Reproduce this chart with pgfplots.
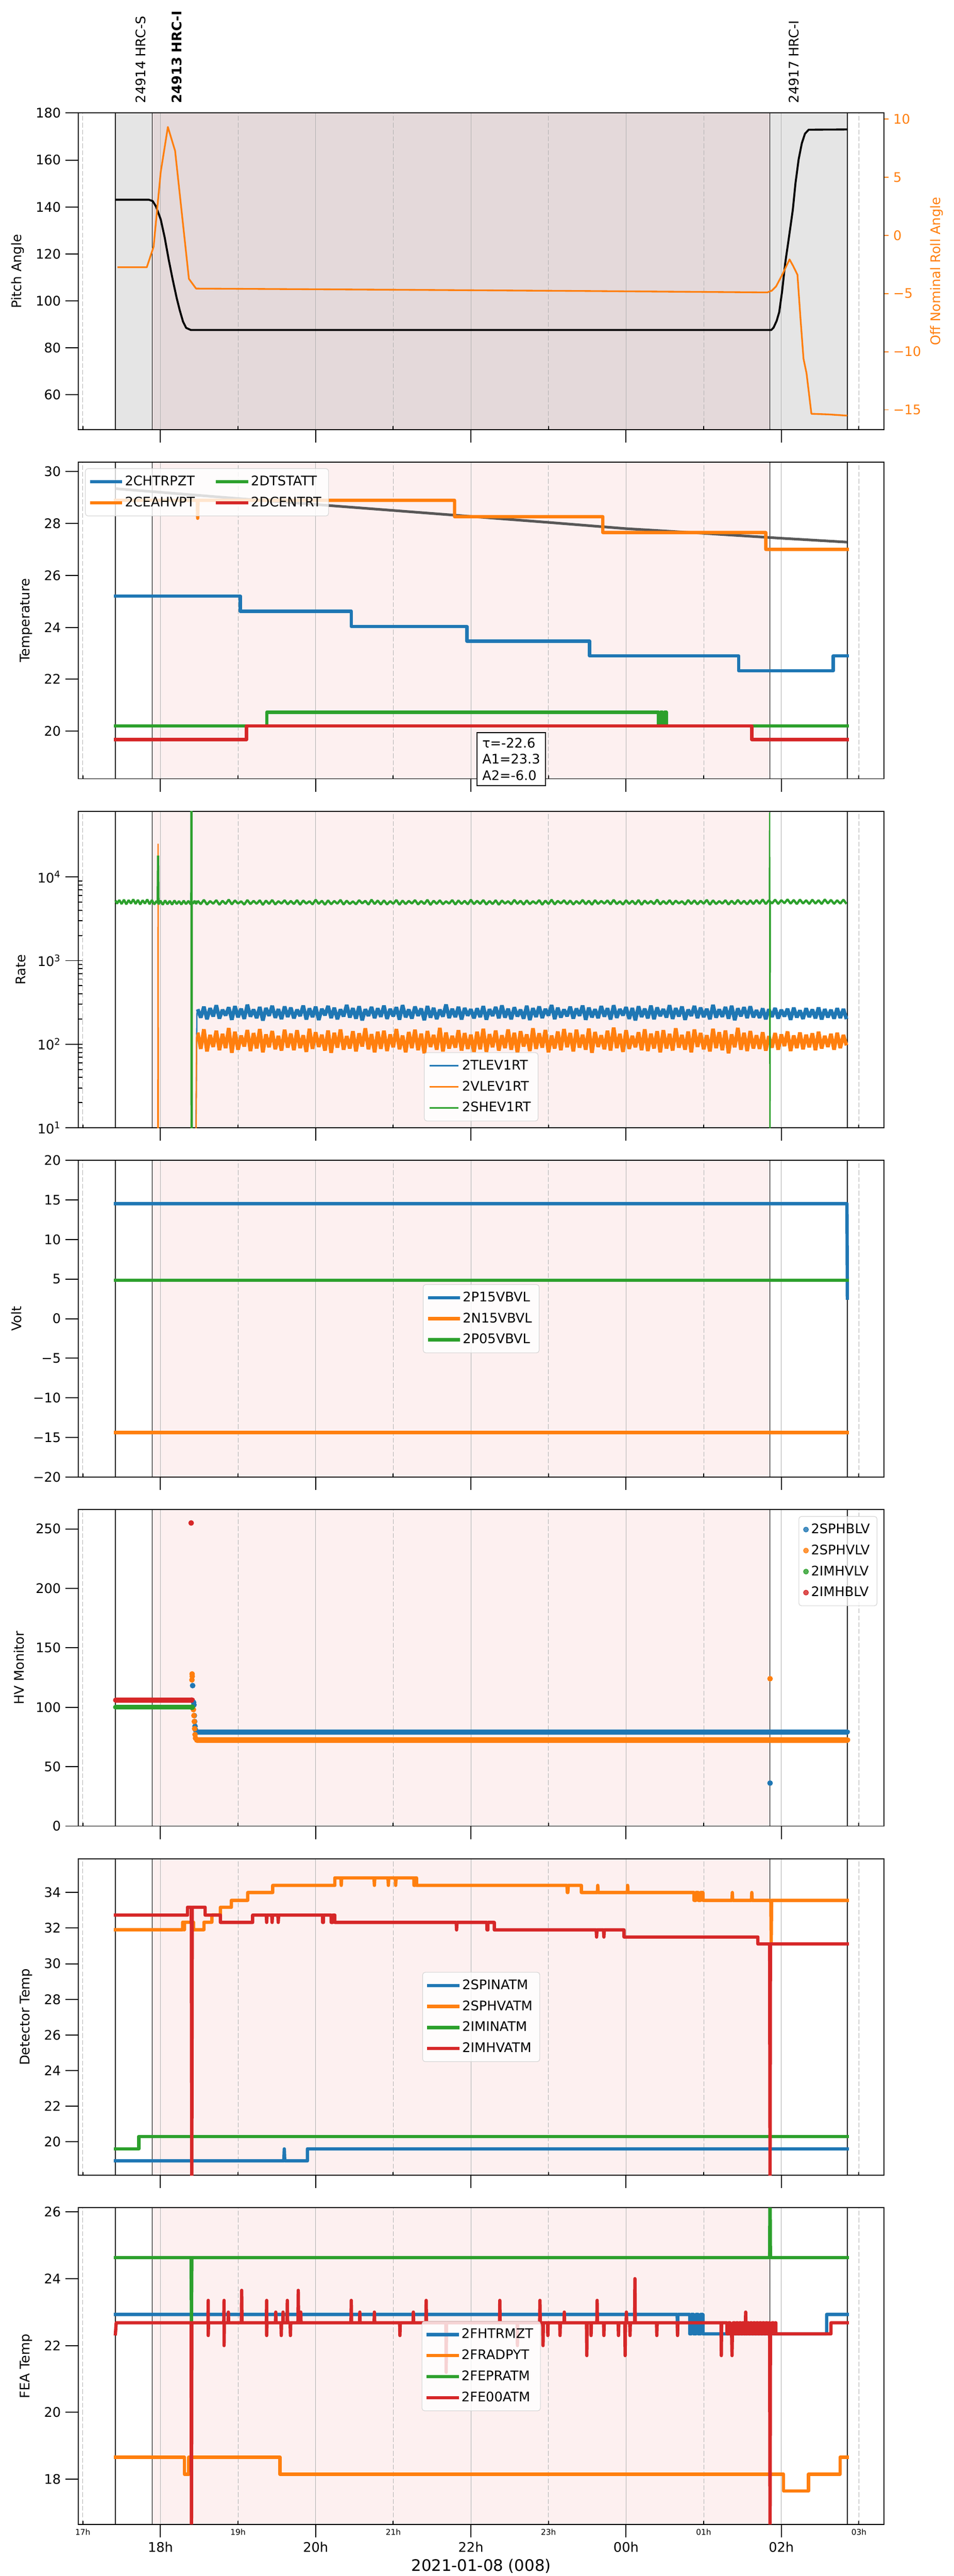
\documentclass[border=0pt]{standalone}
\usepackage{fontspec}
\setmainfont{DejaVu Sans}
\usepackage{pgfplots}
\usepackage{pgfplotstable}
\pgfplotsset{compat=1.18}

\definecolor{tabblue}{HTML}{1F77B4}
\definecolor{taborange}{HTML}{FF7F0E}
\definecolor{tabgreen}{HTML}{2CA02C}
\definecolor{tabred}{HTML}{D62728}
\definecolor{gridgray}{HTML}{B0B0B0}
\definecolor{pinkbg}{RGB}{253,240,240}
\definecolor{brownbg}{RGB}{228,217,218}
\definecolor{graybg}{RGB}{229,229,229}
\definecolor{fitgray}{HTML}{474747}

\pgfplotstableread{
x b o g
18.48 262 138 5210
18.52 208 88 4720
18.56 281 151 5330
18.60 199 82 4680
18.64 270 129 5150
18.68 215 93 4790
18.72 292 145 5280
18.76 203 85 4650
18.80 258 133 5190
18.84 221 90 4750
18.88 276 156 5360
18.92 196 79 4700
18.96 285 141 5240
19.00 210 86 4810
19.04 266 127 5120
19.08 201 94 4670
19.12 297 148 5300
19.16 214 83 4730
19.20 260 136 5180
19.24 205 89 4780
19.28 279 152 5260
19.32 192 80 4640
19.36 271 131 5220
19.40 219 92 4760
19.44 288 144 5310
19.48 207 87 4690
19.52 263 126 5140
19.56 200 84 4800
19.60 283 149 5270
19.64 212 91 4710
19.68 274 134 5170
19.72 204 85 4740
19.76 259 147 5290
19.80 217 90 4660
19.84 290 128 5230
19.88 198 81 4800
19.92 268 153 5130
19.96 211 88 4700
20.00 281 139 5340
20.04 195 93 4770
20.08 265 130 5200
20.12 222 84 4650
20.16 287 146 5250
20.20 206 79 4720
20.24 273 137 5160
20.28 199 91 4790
20.32 261 150 5320
20.36 215 86 4680
20.40 295 125 5210
20.44 209 89 4750
20.48 270 143 5110
20.52 202 82 4710
20.56 284 135 5280
20.60 193 94 4830
20.64 262 155 5190
20.68 218 87 4670
20.72 279 132 5350
20.76 205 80 4740
20.80 268 141 5230
20.84 213 88 4690
20.88 289 145 5250
20.92 201 83 4700
20.96 264 131 5140
21.00 216 92 4780
21.04 277 152 5310
21.08 197 87 4660
21.12 293 127 5220
21.16 210 80 4730
21.20 260 140 5180
21.24 203 90 4810
21.28 282 149 5290
21.32 219 85 4690
21.36 267 134 5160
21.40 194 78 4750
21.44 286 144 5330
21.48 208 93 4640
21.52 272 129 5200
21.56 200 86 4770
21.60 259 157 5260
21.64 214 82 4720
21.68 298 138 5120
21.72 206 89 4800
21.76 265 126 5300
21.80 211 91 4680
21.84 280 147 5240
21.88 198 84 4760
21.92 271 136 5170
21.96 220 88 4710
22.00 262 130 5340
22.04 204 81 4730
22.08 268 141 5190
22.12 211 87 4760
22.16 285 153 5300
22.20 197 81 4690
22.24 262 132 5160
22.28 218 92 4740
22.32 279 146 5270
22.36 204 84 4650
22.40 291 128 5230
22.44 208 90 4800
22.48 266 150 5140
22.52 199 86 4710
22.56 276 137 5320
22.60 215 79 4770
22.64 259 143 5200
22.68 202 94 4680
22.72 288 131 5250
22.76 195 83 4730
22.80 270 155 5130
22.84 212 88 4790
22.88 283 135 5290
22.92 206 91 4660
22.96 264 148 5210
23.00 220 80 4750
23.04 294 127 5340
23.08 200 89 4700
23.12 273 142 5180
23.16 209 85 4820
23.20 260 152 5260
23.24 216 92 4720
23.28 281 136 5230
23.32 203 82 4690
23.36 267 149 5150
23.40 219 91 4780
23.44 290 130 5310
23.48 196 86 4720
23.52 274 154 5200
23.56 210 79 4660
23.60 262 140 5280
23.64 205 93 4750
23.68 286 128 5170
23.72 214 87 4800
23.76 269 145 5240
23.80 198 84 4700
23.84 292 158 5330
23.88 207 90 4740
23.92 263 133 5120
23.96 221 81 4680
24.00 278 147 5260
24.04 201 88 4770
24.08 271 126 5190
24.12 193 92 4710
24.16 284 139 5300
24.20 212 85 4650
24.24 266 151 5220
24.28 204 83 4790
24.32 289 134 5160
24.36 199 89 4730
24.40 275 143 5350
24.44 217 80 4700
24.48 263 147 5160
24.52 209 89 4750
24.56 292 133 5280
24.60 201 84 4700
24.64 270 155 5210
24.68 215 91 4820
24.72 282 129 5130
24.76 196 86 4680
24.80 259 142 5300
24.84 218 80 4760
24.88 287 150 5240
24.92 205 93 4710
24.96 274 136 5190
25.00 211 87 4790
25.04 265 128 5320
25.08 199 82 4660
25.12 296 153 5250
25.16 208 90 4740
25.20 261 139 5150
25.24 213 85 4800
25.28 279 146 5270
25.32 202 78 4690
25.36 288 131 5200
25.40 194 92 4730
25.44 268 157 5310
25.48 216 86 4770
25.52 277 137 5180
25.56 206 83 4710
25.60 284 144 5260
25.64 210 89 4750
25.68 255 128 5300
25.72 207 88 4780
25.76 268 139 5380
25.80 199 84 4740
25.84 262 125 5260
25.88 212 91 4820
25.92 271 136 5350
25.96 203 86 4760
26.00 258 131 5290
26.04 215 95 4850
26.08 266 142 5400
26.12 196 83 4790
26.16 273 127 5310
26.20 209 90 4730
26.24 254 138 5370
26.28 201 87 4810
26.32 269 130 5270
26.36 211 92 4760
26.40 260 135 5340
26.44 204 85 4800
26.48 275 141 5280
26.52 198 89 4750
26.56 263 126 5390
26.60 210 93 4830
26.64 258 133 5320
26.68 202 86 4770
26.72 270 137 5260
26.76 206 90 4800
26.80 264 129 5350
26.84 200 97 4760
}\ratetable

\pgfplotsset{
  panel/.style={
    scale only axis, width=610.2pt, height=239.8pt, anchor=north west,
    xmin=16.944, xmax=27.322,
    xtick={18,20,22,24,26}, xticklabels={},
    extra x ticks={17,19,21,23,25,27}, extra x tick labels={},
    extra x tick style={xmajorgrids=true,
      major grid style={gridgray, line width=0.45pt, dash pattern=on 3.6pt off 1.6pt},
      major tick length=2.5pt, tick align=inside},
    xmajorgrids=true, ymajorgrids=false,
    major grid style={gridgray, line width=0.45pt},
    tick align=outside, major tick length=9.8pt, minor tick length=3pt,
    xtick pos=left, ytick pos=left,
    axis line style={line width=0.75pt},
    every tick/.style={black, line width=0.75pt},
    /pgf/number format/assume math mode=true,
    set layers, clip mode=individual,
    ylabel style={yshift=2pt},
    legend cell align=left,
    legend style={draw=black!18, fill=white, fill opacity=0.8, text opacity=1,
      rounded corners=2pt, inner sep=3.5pt, row sep=3pt,
      font=\fontsize{10}{12}\selectfont},
  },
  lineleg/.style={legend image code/.code={\draw[##1] (0pt,0pt) -- (22pt,0pt);}},
  dat/.style={line width=2.5pt, line join=round, line cap=rect},
}

\newcommand{\obs}[3]{%
  \addplot[fill=#3, draw=none, on layer=axis background, forget plot] coordinates {(17.895,#1) (25.85,#1) (25.85,#2) (17.895,#2)};
  \addplot[black, line width=0.5pt, forget plot] coordinates {(17.42,#1) (17.42,#2)};
  \addplot[black, line width=0.5pt, forget plot] coordinates {(17.895,#1) (17.895,#2)};
  \addplot[black, line width=0.5pt, forget plot] coordinates {(25.85,#1) (25.85,#2)};
  \addplot[black, line width=0.5pt, forget plot] coordinates {(26.851,#1) (26.851,#2)};
}

\begin{document}
\begin{tikzpicture}

% ---------------- Panel 1: Pitch / Roll
\begin{axis}[panel, at={(59.45pt,1865.66pt)}, ymin=45.2, ymax=180, ytick={60,80,...,180}, ylabel={Pitch Angle}]
\addplot[fill=graybg, draw=none, on layer=axis background, forget plot] coordinates {(17.42,45.2) (17.895,45.2) (17.895,180) (17.42,180)};
\addplot[fill=graybg, draw=none, on layer=axis background, forget plot] coordinates {(25.85,45.2) (26.851,45.2) (26.851,180) (25.85,180)};
\obs{45.2}{180}{brownbg}
\addplot[black, line width=1.5pt, line join=round] coordinates {
(17.42,143.1) (17.85,143.1) (17.90,142.5) (17.943,140.2) (18.004,134.7) (18.055,127) (18.106,117.7)
(18.158,109.1) (18.209,101.3) (18.25,95.9) (18.291,91.2) (18.332,88.5) (18.393,87.6) (18.45,87.6)
(25.87,87.6) (25.90,88.6) (25.94,91.5) (25.973,95.2) (26.01,104) (26.05,116) (26.096,126.5)
(26.148,138.7) (26.183,150.2) (26.224,160.4) (26.265,167.2) (26.305,171.2) (26.353,172.9) (26.851,173)};
\node[yshift=7.3pt, rotate=90, anchor=west, inner sep=0pt] at (axis cs:17.748,180) {24914 HRC-S};
\node[yshift=7.3pt, rotate=90, anchor=west, inner sep=0pt] at (axis cs:18.21,180) {\textbf{24913 HRC-I}};
\node[yshift=7.3pt, rotate=90, anchor=west, inner sep=0pt] at (axis cs:26.162,180) {24917 HRC-I};
\end{axis}
\begin{axis}[scale only axis, width=610.2pt, height=239.8pt, anchor=north west, at={(59.45pt,1865.66pt)},
  xmin=16.944, xmax=27.322, axis x line=none, axis y line*=right,
  axis line style={-, line width=0.75pt},
  ymin=-16.7, ymax=10.53, ytick={-15,-10,-5,0,5,10}, yticklabels={−15,−10,−5,0,5,10},
  tick align=outside, major tick length=3.6pt, every tick/.style={taborange, line width=0.75pt},
  y tick label style={text=taborange}, ylabel={Off Nominal Roll Angle}, ylabel style={text=taborange},
  xmajorgrids=false, ymajorgrids=false]
\addplot[taborange, line width=1.3pt, line join=round] coordinates {
(17.447,-2.74) (17.824,-2.74) (17.912,-0.97) (18.004,5.47) (18.096,9.33) (18.189,7.28) (18.367,-3.73)
(18.459,-4.57) (21.0,-4.67) (23.5,-4.78) (25.82,-4.9) (25.878,-4.75) (25.933,-4.38) (26.012,-3.38)
(26.106,-2.06) (26.153,-2.63) (26.208,-3.38) (26.247,-7.12) (26.286,-10.6) (26.325,-11.85)
(26.388,-15.34) (26.6,-15.39) (26.851,-15.5)};
\end{axis}

% ---------------- Panel 2: Temperature
\begin{axis}[panel, lineleg, at={(59.45pt,1601.20pt)}, ymin=18.17, ymax=30.36, ytick={20,22,...,30}, ylabel={Temperature},
  legend columns=2, transpose legend,
  legend style={at={(0,1)}, anchor=north west, xshift=5pt, yshift=-4.7pt, /tikz/every even column/.append style={column sep=14pt}}]
\obs{18.17}{30.36}{pinkbg}
\addplot[fitgray, line width=2pt, opacity=0.9, forget plot] coordinates {
(17.42,29.34) (18,29.20) (19,28.96) (20,28.73) (21,28.50) (22,28.27) (23,28.04) (24,27.80) (25,27.62) (26,27.43) (26.851,27.28)};
\addplot[tabblue, dat] coordinates {(17.42,25.2) (19.03,25.2) (19.03,24.62) (20.46,24.62) (20.46,24.03) (21.95,24.03) (21.95,23.47) (23.53,23.47) (23.53,22.9) (25.45,22.9) (25.45,22.33) (26.67,22.33) (26.67,22.9) (26.851,22.9)};
\addlegendentry{2CHTRPZT}
\addplot[taborange, dat] coordinates {(17.42,28.89) (18.475,28.89) (18.48,28.2) (18.485,28.89) (21.79,28.89) (21.79,28.26) (23.70,28.26) (23.70,27.65) (25.80,27.65) (25.80,27.0) (26.851,27.0)};
\addlegendentry{2CEAHVPT}
\addplot[tabgreen, dat] coordinates {(17.42,20.2) (19.37,20.2) (19.37,20.73) (24.42,20.73) (24.42,20.2) (24.445,20.2) (24.445,20.73) (24.47,20.73) (24.47,20.2) (24.495,20.2) (24.495,20.73) (24.52,20.73) (24.52,20.2) (26.851,20.2)};
\addlegendentry{2DTSTATT}
\addplot[tabred, dat] coordinates {(17.42,19.68) (19.11,19.68) (19.11,20.2) (25.62,20.2) (25.62,19.68) (26.851,19.68)};
\addlegendentry{2DCENTRT}
\node[draw=black, line width=1pt, fill=white, align=left, anchor=north, inner sep=4pt, font=\fontsize{10}{12.3}\selectfont] at (axis cs:22.52,19.97) {τ=-22.6\\A1=23.3\\A2=-6.0};
\end{axis}

% ---------------- Panel 3: Rate
\begin{axis}[panel, lineleg, at={(59.45pt,1336.74pt)}, ymode=log, ymin=10, ymax=61000,
  ytick={10,100,1000,10000}, yticklabels={10\textsuperscript{1},10\textsuperscript{2},10\textsuperscript{3},10\textsuperscript{4}},
  every minor tick/.append style={xshift=3pt},
  ylabel={Rate}, legend style={at={(0.5,0)}, anchor=south, yshift=5pt},
  legend image post style={line width=1.1pt}]
\obs{10}{61000}{pinkbg}
\addplot[tabblue, line width=2.8pt, line join=bevel] table[x=x,y=b]{\ratetable};
\addlegendentry{2TLEV1RT}
\addplot[taborange, line width=2.8pt, line join=bevel] table[x=x,y=o]{\ratetable};
\addlegendentry{2VLEV1RT}
\addplot[tabgreen, line width=1.7pt, line join=bevel] table[x=x,y=g]{\ratetable};
\addlegendentry{2SHEV1RT}
\addplot[tabblue, line width=1pt, forget plot] coordinates {(18.45,1) (18.465,60) (18.47,230) (18.48,262)};
\addplot[taborange, line width=1pt, forget plot] coordinates {(17.966,1) (17.97,25000) (17.974,1)};
\addplot[taborange, line width=1pt, forget plot] coordinates {(18.396,1) (18.40,4800) (18.404,1) (18.455,1) (18.465,120) (18.48,138)};
\addplot[tabgreen, line width=1.7pt, line join=bevel, forget plot] coordinates {
(17.42,5250) (17.44,4800) (17.47,5300) (17.50,4750) (17.53,5350) (17.56,4700) (17.59,5280) (17.62,4820) (17.65,5400) (17.68,4760)
(17.71,5320) (17.74,4690) (17.77,5260) (17.80,4810) (17.83,5380) (17.86,4730) (17.89,5300) (17.92,4700) (17.95,5150) (17.965,4900)
(17.97,18000) (17.975,4700) (18.00,5200) (18.03,4650) (18.06,5250) (18.09,4720) (18.12,5180) (18.15,4680) (18.18,5230) (18.21,4750)
(18.24,5150) (18.27,4690) (18.30,5210) (18.33,4730) (18.36,5170) (18.39,4700) (18.398,5000) (18.40,100000) (18.402,1) (18.404,5000)
(18.42,4800) (18.44,5200) (18.46,4750) (18.48,5210)};
\addplot[tabgreen, line width=1pt, forget plot] coordinates {(25.846,5000) (25.85,59000) (25.854,1) (25.858,5100)};
\end{axis}

% ---------------- Panel 4: Volt
\begin{axis}[panel, lineleg, at={(59.45pt,1072.28pt)}, ymin=-20, ymax=20, ytick={-20,-15,...,20},
  yticklabels={−20,−15,−10,−5,0,5,10,15,20}, ylabel={Volt},
  legend style={at={(0.5,0.5)}, anchor=center}]
\obs{-20}{20}{pinkbg}
\addplot[tabblue, dat] coordinates {(17.42,14.53) (26.846,14.53) (26.851,2.6)};
\addlegendentry{2P15VBVL}
\addplot[taborange, dat] coordinates {(17.42,-14.39) (26.851,-14.39)};
\addlegendentry{2N15VBVL}
\addplot[tabgreen, dat] coordinates {(17.42,4.85) (26.851,4.85)};
\addlegendentry{2P05VBVL}
\end{axis}

% ---------------- Panel 5: HV Monitor
\begin{axis}[panel, at={(59.45pt,807.82pt)}, ymin=0, ymax=266.3, ytick={0,50,...,250}, ylabel={HV Monitor},
  legend style={at={(1,1)}, anchor=north east, xshift=-5pt, yshift=-5pt}]
\obs{0}{266.3}{pinkbg}
\addplot[tabred, line width=3.6pt, line cap=round, forget plot] coordinates {(17.42,106) (18.415,106)};
\addplot[tabgreen, line width=3.6pt, line cap=round, forget plot] coordinates {(17.42,100) (18.415,100)};
\addplot[tabblue, line width=3.9pt, line cap=round, forget plot] coordinates {(18.47,79.3) (26.851,79.3)};
\addplot[taborange, line width=4.4pt, line cap=round, forget plot] coordinates {(18.47,72.5) (26.851,72.5)};
\addplot[only marks, mark=*, mark size=1.9pt, tabblue] coordinates {(18.415,118.2) (18.428,104) (18.432,102) (18.437,93) (18.441,88) (18.446,84) (18.452,81) (25.855,36.2)};
\addlegendentry{2SPHBLV}
\addplot[only marks, mark=*, mark size=1.9pt, taborange] coordinates {(18.408,128) (18.41,126) (18.406,123) (18.425,98) (18.432,93) (18.437,88) (18.441,82) (18.446,77) (18.452,74) (25.855,124)};
\addlegendentry{2SPHVLV}
\addplot[only marks, mark=*, mark size=1.9pt, tabgreen] coordinates {(18.40,100) (18.41,100)};
\addlegendentry{2IMHVLV}
\addplot[only marks, mark=*, mark size=1.9pt, tabred] coordinates {(18.396,255) (18.40,106)};
\addlegendentry{2IMHBLV}
\end{axis}

% ---------------- Panel 6: Detector Temp
\begin{axis}[panel, lineleg, at={(59.45pt,543.36pt)}, ymin=18.12, ymax=35.9, ytick={20,22,...,34}, ylabel={Detector Temp},
  legend style={at={(0.5,0.5)}, anchor=center}]
\obs{18.12}{35.9}{pinkbg}
\addplot[tabblue, dat] coordinates {(17.42,18.93) (19.59,18.93) (19.596,19.6) (19.602,18.93) (19.894,18.93) (19.894,19.6) (26.851,19.6)};
\addlegendentry{2SPINATM}
\addplot[taborange, dat] coordinates {(17.42,31.91) (18.286,31.91) (18.286,32.33) (18.30,32.33) (18.30,31.91) (18.31,31.91) (18.31,32.33) (18.427,32.33) (18.427,31.91) (18.561,31.91) (18.561,32.33) (18.663,32.33) (18.663,32.74) (18.773,32.74) (18.773,33.17) (18.914,33.17) (18.914,33.56) (19.125,33.56) (19.125,34.0) (19.447,34.0) (19.447,34.4) (20.247,34.4) (20.247,34.82) (20.325,34.82) (20.33,34.4) (20.335,34.82) (20.752,34.82) (20.757,34.4) (20.762,34.82) (20.932,34.82) (20.937,34.4) (20.942,34.82) (21.026,34.82) (21.031,34.4) (21.036,34.82) (21.267,34.82) (21.267,34.4) (21.28,34.4) (21.28,34.82) (21.30,34.82) (21.30,34.4) (23.238,34.4) (23.243,34.0) (23.25,34.0) (23.255,34.4) (23.424,34.4) (23.424,34.0) (23.63,34.0) (23.635,34.4) (23.64,34.0) (24.015,34.0) (24.02,34.4) (24.025,34.0) (24.875,34.0) (24.875,33.56) (24.9,33.56) (24.9,34.0) (24.93,34.0) (24.93,33.56) (24.96,33.56) (24.96,34.0) (24.99,34.0) (24.99,33.56) (25.364,33.56) (25.369,34.0) (25.374,33.56) (25.615,33.56) (25.62,34.0) (25.625,33.56) (25.865,33.56) (25.87,31.2) (25.875,33.56) (26.851,33.56)};
\addlegendentry{2SPHVATM}
\addplot[tabgreen, dat] coordinates {(17.42,19.6) (17.722,19.6) (17.722,20.3) (26.851,20.3)};
\addlegendentry{2IMINATM}
\addplot[tabred, dat] coordinates {(17.42,32.73) (18.349,32.73) (18.349,33.17) (18.398,33.17) (18.404,17) (18.41,33.17) (18.576,33.17) (18.576,32.73) (18.773,32.73) (18.773,32.32) (19.188,32.32) (19.188,32.73) (19.364,32.73) (19.369,32.32) (19.374,32.73) (19.434,32.73) (19.439,32.32) (19.444,32.73) (19.513,32.73) (19.518,32.32) (19.523,32.73) (20.09,32.73) (20.09,32.32) (20.10,32.32) (20.10,32.73) (20.20,32.73) (20.20,32.32) (20.22,32.32) (20.22,32.73) (20.247,32.73) (20.247,32.32) (21.811,32.32) (21.816,31.9) (21.821,32.32) (22.208,32.32) (22.208,31.9) (22.22,31.9) (22.22,32.32) (22.302,32.32) (22.302,31.9) (23.615,31.9) (23.62,31.5) (23.625,31.9) (23.709,31.9) (23.714,31.5) (23.719,31.9) (23.973,31.9) (23.973,31.5) (25.698,31.5) (25.698,31.11) (25.85,31.11) (25.855,17) (25.86,31.11) (26.851,31.11)};
\addlegendentry{2IMHVATM}
\end{axis}

% ---------------- Panel 7: FEA Temp
\begin{axis}[panel, lineleg, at={(59.45pt,278.90pt)}, ymin=16.65, ymax=26.12, ytick={18,20,...,26}, ylabel={FEA Temp},
  xticklabels={18h,20h,22h,00h,02h}, extra x tick labels={17h,19h,21h,23h,01h,03h},
  extra x tick style={tick label style={font=\fontsize{6}{7}\selectfont}},
  xlabel={2021-01-08 (008)},
  xlabel style={font=\fontsize{12}{14}\selectfont, at={(axis description cs:0.5,0)}, anchor=base, yshift=-35.5pt, inner sep=0pt},
  legend style={at={(0.5,0.5)}, anchor=center}]
\obs{16.65}{26.12}{pinkbg}
\addplot[tabblue, dat] coordinates {(17.42,22.93) (24.658,22.93) (24.663,22.35) (24.668,22.93) (24.82,22.93) (24.82,22.35) (24.84,22.35) (24.84,22.93) (24.87,22.93) (24.87,22.35) (24.90,22.35) (24.90,22.93) (24.93,22.93) (24.93,22.35) (24.96,22.35) (24.96,22.93) (24.99,22.93) (24.99,22.35) (26.584,22.35) (26.584,22.93) (26.851,22.93)};
\addlegendentry{2FHTRMZT}
\addplot[taborange, dat] coordinates {(17.42,18.66) (18.31,18.66) (18.31,18.15) (18.365,18.15) (18.365,18.66) (19.54,18.66) (19.54,18.15) (26.03,18.15) (26.03,17.65) (26.35,17.65) (26.35,18.15) (26.757,18.15) (26.757,18.66) (26.851,18.66)};
\addlegendentry{2FRADPYT}
\addplot[tabgreen, dat] coordinates {(17.42,24.63) (18.395,24.63) (18.40,22.73) (18.405,24.63) (25.85,24.63) (25.855,27) (25.86,24.63) (26.851,24.63)};
\addlegendentry{2FEPRATM}
\addplot[tabred, dat] coordinates {
(17.42,22.35) (17.43,22.68)
(18.395,22.68) (18.40,16) (18.405,22.68)
(18.612,22.68) (18.616,23.35) (18.616,22.3) (18.62,22.68)
(18.816,22.68) (18.82,23.35) (18.82,22.0) (18.824,22.68)
(18.871,22.68) (18.875,23.0) (18.879,22.68)
(19.043,22.68) (19.047,23.65) (19.051,22.68)
(19.365,22.68) (19.369,23.35) (19.369,22.3) (19.373,22.68)
(19.482,22.68) (19.486,23.0) (19.49,22.68)
(19.553,22.68) (19.557,22.3) (19.561,22.68)
(19.576,22.68) (19.58,23.0) (19.584,22.68)
(19.631,22.68) (19.635,23.35) (19.639,22.68)
(19.671,22.68) (19.675,22.3) (19.679,22.68)
(19.772,22.68) (19.776,23.65) (19.78,22.68)
(19.804,22.68) (19.808,23.0) (19.812,22.68)
(20.455,22.68) (20.459,23.35) (20.463,22.68)
(20.565,22.68) (20.569,23.0) (20.573,22.68)
(20.753,22.68) (20.757,23.0) (20.761,22.68)
(21.082,22.68) (21.086,22.3) (21.09,22.68)
(21.255,22.68) (21.259,23.0) (21.263,22.68)
(21.42,22.68) (21.424,23.35) (21.428,22.68)
(21.678,22.68) (21.682,21.2) (21.686,22.68)
(22.369,22.68) (22.373,23.35) (22.377,22.68)
(22.596,22.68) (22.6,22.0) (22.604,22.68)
(22.886,22.68) (22.89,23.35) (22.894,22.68)
(22.926,22.68) (22.93,22.0) (22.934,22.68)
(22.988,22.68) (22.992,22.3) (22.996,22.68)
(23.145,22.68) (23.149,22.3) (23.153,22.68)
(23.2,22.68) (23.204,23.0) (23.208,22.68)
(23.49,22.68) (23.494,21.7) (23.498,22.68)
(23.545,22.68) (23.549,22.3) (23.553,22.68)
(23.623,22.68) (23.627,23.35) (23.631,22.68)
(23.71,22.68) (23.714,22.3) (23.718,22.68)
(23.898,22.68) (23.902,22.3) (23.906,22.68)
(23.984,22.68) (23.988,21.7) (23.992,22.68)
(24.0,22.68) (24.004,23.0) (24.008,22.68)
(24.047,22.68) (24.051,22.3) (24.055,22.68)
(24.11,22.68) (24.114,24.0) (24.118,22.68)
(24.392,22.68) (24.396,22.3) (24.4,22.68)
(24.659,22.68) (24.663,22.3) (24.667,22.68)
(25.223,22.68) (25.227,21.7) (25.231,22.68)
(25.30,22.68) (25.30,22.35) (25.32,22.35) (25.32,22.68) (25.34,22.68) (25.34,22.35) (25.36,22.35) (25.365,21.7) (25.37,22.35)
(25.38,22.35) (25.38,22.68) (25.40,22.68) (25.40,22.35) (25.42,22.35) (25.42,22.68) (25.44,22.68) (25.44,22.35) (25.46,22.35)
(25.46,22.68) (25.48,22.68) (25.48,22.35) (25.50,22.35) (25.50,22.68) (25.52,22.68) (25.52,22.35) (25.535,22.35) (25.541,23.0)
(25.547,22.35) (25.56,22.35) (25.56,22.68) (25.58,22.68) (25.58,22.35) (25.60,22.35) (25.60,22.68) (25.62,22.68) (25.62,22.35)
(25.64,22.35) (25.64,22.68) (25.66,22.68) (25.66,22.35) (25.68,22.35) (25.68,22.68) (25.70,22.68) (25.70,22.35) (25.72,22.35)
(25.72,22.68) (25.74,22.68) (25.74,22.35) (25.76,22.35) (25.76,22.68) (25.78,22.68) (25.78,22.35) (25.80,22.35) (25.80,22.68)
(25.82,22.68) (25.82,22.35) (25.84,22.35) (25.84,22.68) (25.85,22.68) (25.855,16) (25.86,22.35) (25.88,22.35) (25.88,22.68)
(25.90,22.68) (25.90,22.35) (25.92,22.35) (25.92,22.68) (25.93,22.68) (25.93,22.35) (26.64,22.35) (26.64,22.68) (26.851,22.68)};
\addlegendentry{2FE00ATM}
\end{axis}

\pgfresetboundingbox
\path (0,0) rectangle (722.7pt,1951.3pt);
\end{tikzpicture}
\end{document}
